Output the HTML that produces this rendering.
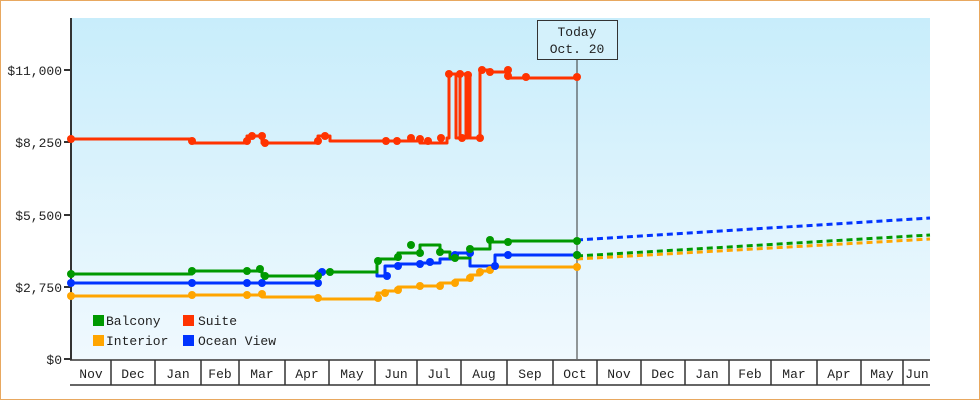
<!DOCTYPE html>
<html><head><meta charset="utf-8"><style>
body{margin:0;background:#fff}
svg{display:block}
text{font-family:"Liberation Mono","DejaVu Sans Mono",monospace;font-size:13px;fill:#222}
</style></head><body>
<svg width="980" height="400" viewBox="0 0 980 400">
<defs><linearGradient id="g" x1="0" y1="0" x2="0" y2="1"><stop offset="0" stop-color="#c8edfb"/><stop offset="1" stop-color="#f0f9fe"/></linearGradient></defs>
<rect x="0.5" y="0.5" width="979" height="399" fill="#fff" stroke="#e8a860"/>
<rect x="71" y="18" width="859" height="341" fill="url(#g)"/>
<line x1="71" y1="18" x2="71" y2="360" stroke="#333" stroke-width="2"/>
<g stroke="#333" stroke-width="2">
<line x1="64" y1="70" x2="71" y2="70"/><line x1="64" y1="142" x2="71" y2="142"/><line x1="64" y1="215" x2="71" y2="215"/><line x1="64" y1="287" x2="71" y2="287"/><line x1="64" y1="359" x2="71" y2="359"/></g>
<g text-anchor="end"><text x="62" y="75">$11,000</text><text x="62" y="147">$8,250</text><text x="62" y="220">$5,500</text><text x="62" y="292">$2,750</text><text x="62" y="364">$0</text></g>
<g stroke="#333" stroke-width="1.5" fill="none">
<line x1="70" y1="360" x2="930" y2="360"/><line x1="70" y1="385" x2="930" y2="385"/>
<path d="M111 360V385M155 360V385M201 360V385M239 360V385M285 360V385M329 360V385M375 360V385M417 360V385M461 360V385M507 360V385M553 360V385M597 360V385M641 360V385M685 360V385M729 360V385M771 360V385M817 360V385M861 360V385M903 360V385"/></g>
<g text-anchor="middle"><text x="91" y="378">Nov</text><text x="133" y="378">Dec</text><text x="178" y="378">Jan</text><text x="220" y="378">Feb</text><text x="262" y="378">Mar</text><text x="307" y="378">Apr</text><text x="352" y="378">May</text><text x="396" y="378">Jun</text><text x="439" y="378">Jul</text><text x="484" y="378">Aug</text><text x="530" y="378">Sep</text><text x="575" y="378">Oct</text><text x="619" y="378">Nov</text><text x="663" y="378">Dec</text><text x="707" y="378">Jan</text><text x="750" y="378">Feb</text><text x="794" y="378">Mar</text><text x="839" y="378">Apr</text><text x="882" y="378">May</text><text x="917" y="378">Jun</text></g>
<line x1="577" y1="59" x2="577" y2="359" stroke="#333" stroke-width="1"/>
<rect x="537.5" y="20.5" width="80" height="39" fill="#d4f1fb" stroke="#333"/>
<text x="577" y="36" text-anchor="middle">Today</text><text x="577" y="53" text-anchor="middle">Oct. 20</text>
<g fill="none" stroke-width="3" stroke-dasharray="6,4">
<path d="M577 240L930 218" stroke="#0033ff"/>
<path d="M577 256L930 235" stroke="#009900"/>
<path d="M577 259L930 239" stroke="#ffa500"/>
</g>
<g fill="none" stroke-width="3" stroke-linejoin="round">
<path stroke="#ff3300" d="M71 139H192V143H247V136H262V143H318V136H330V141H420V143H447V138H449V74H456V138H460V74H466V138H468V74H470V138H478V138H480V70H488V72H508V78H577"/>
<path stroke="#ffa500" d="M71 296H192V295H262V297H318V299H377V293H385V291H398V287H420V286H440V283H455V280H470V275H480V271H490V267H577"/>
<path stroke="#0033ff" d="M71 283H318V272H377V276H385V266H398V264H420V263H440V259H455V253H470V266H495V255H577"/>
<path stroke="#009900" d="M71 274H192V271H262V276H318V272H377V259H398V253H420V245H440V252H450V258H470V249H490V242H508V241H577"/>
</g>
<g stroke="none">
<g fill="#ff3300"><circle cx="71" cy="139" r="4"/><circle cx="192" cy="141" r="4"/><circle cx="247" cy="141" r="4"/><circle cx="252" cy="136" r="4"/><circle cx="262" cy="136" r="4"/><circle cx="265" cy="143" r="4"/><circle cx="318" cy="141" r="4"/><circle cx="325" cy="136" r="4"/><circle cx="386" cy="141" r="4"/><circle cx="397" cy="141" r="4"/><circle cx="411" cy="138" r="4"/><circle cx="420" cy="139" r="4"/><circle cx="428" cy="141" r="4"/><circle cx="441" cy="138" r="4"/><circle cx="449" cy="74" r="4"/><circle cx="460" cy="74" r="4"/><circle cx="468" cy="75" r="4"/><circle cx="462" cy="138" r="4"/><circle cx="480" cy="138" r="4"/><circle cx="482" cy="70" r="4"/><circle cx="490" cy="72" r="4"/><circle cx="508" cy="70" r="4"/><circle cx="508" cy="76" r="4"/><circle cx="526" cy="77" r="4"/><circle cx="577" cy="77" r="4"/></g>
<g fill="#ffa500"><circle cx="71" cy="296" r="4"/><circle cx="192" cy="295" r="4"/><circle cx="247" cy="295" r="4"/><circle cx="262" cy="294" r="4"/><circle cx="318" cy="298" r="4"/><circle cx="378" cy="298" r="4"/><circle cx="385" cy="293" r="4"/><circle cx="398" cy="290" r="4"/><circle cx="420" cy="286" r="4"/><circle cx="440" cy="286" r="4"/><circle cx="455" cy="283" r="4"/><circle cx="470" cy="278" r="4"/><circle cx="480" cy="272" r="4"/><circle cx="490" cy="270" r="4"/><circle cx="577" cy="267" r="4"/></g>
<g fill="#0033ff"><circle cx="71" cy="283" r="4"/><circle cx="192" cy="283" r="4"/><circle cx="247" cy="283" r="4"/><circle cx="262" cy="283" r="4"/><circle cx="318" cy="283" r="4"/><circle cx="322" cy="272" r="4"/><circle cx="387" cy="276" r="4"/><circle cx="398" cy="266" r="4"/><circle cx="420" cy="264" r="4"/><circle cx="430" cy="262" r="4"/><circle cx="455" cy="255" r="4"/><circle cx="470" cy="253" r="4"/><circle cx="495" cy="266" r="4"/><circle cx="508" cy="255" r="4"/><circle cx="577" cy="255" r="4"/></g>
<g fill="#009900"><circle cx="71" cy="274" r="4"/><circle cx="192" cy="271" r="4"/><circle cx="247" cy="271" r="4"/><circle cx="260" cy="269" r="4"/><circle cx="265" cy="276" r="4"/><circle cx="318" cy="276" r="4"/><circle cx="330" cy="272" r="4"/><circle cx="378" cy="261" r="4"/><circle cx="398" cy="257" r="4"/><circle cx="411" cy="245" r="4"/><circle cx="420" cy="253" r="4"/><circle cx="440" cy="252" r="4"/><circle cx="455" cy="258" r="4"/><circle cx="470" cy="249" r="4"/><circle cx="490" cy="240" r="4"/><circle cx="508" cy="242" r="4"/><circle cx="577" cy="241" r="4"/><circle cx="577" cy="255" r="4"/></g>
</g>
<rect x="93" y="315" width="11" height="11" fill="#009900"/><text x="106" y="325">Balcony</text>
<rect x="183" y="315" width="11" height="11" fill="#ff3300"/><text x="198" y="325">Suite</text>
<rect x="93" y="335" width="11" height="11" fill="#ffa500"/><text x="106" y="345">Interior</text>
<rect x="183" y="335" width="11" height="11" fill="#0033ff"/><text x="198" y="345">Ocean View</text>
</svg>
</body></html>
